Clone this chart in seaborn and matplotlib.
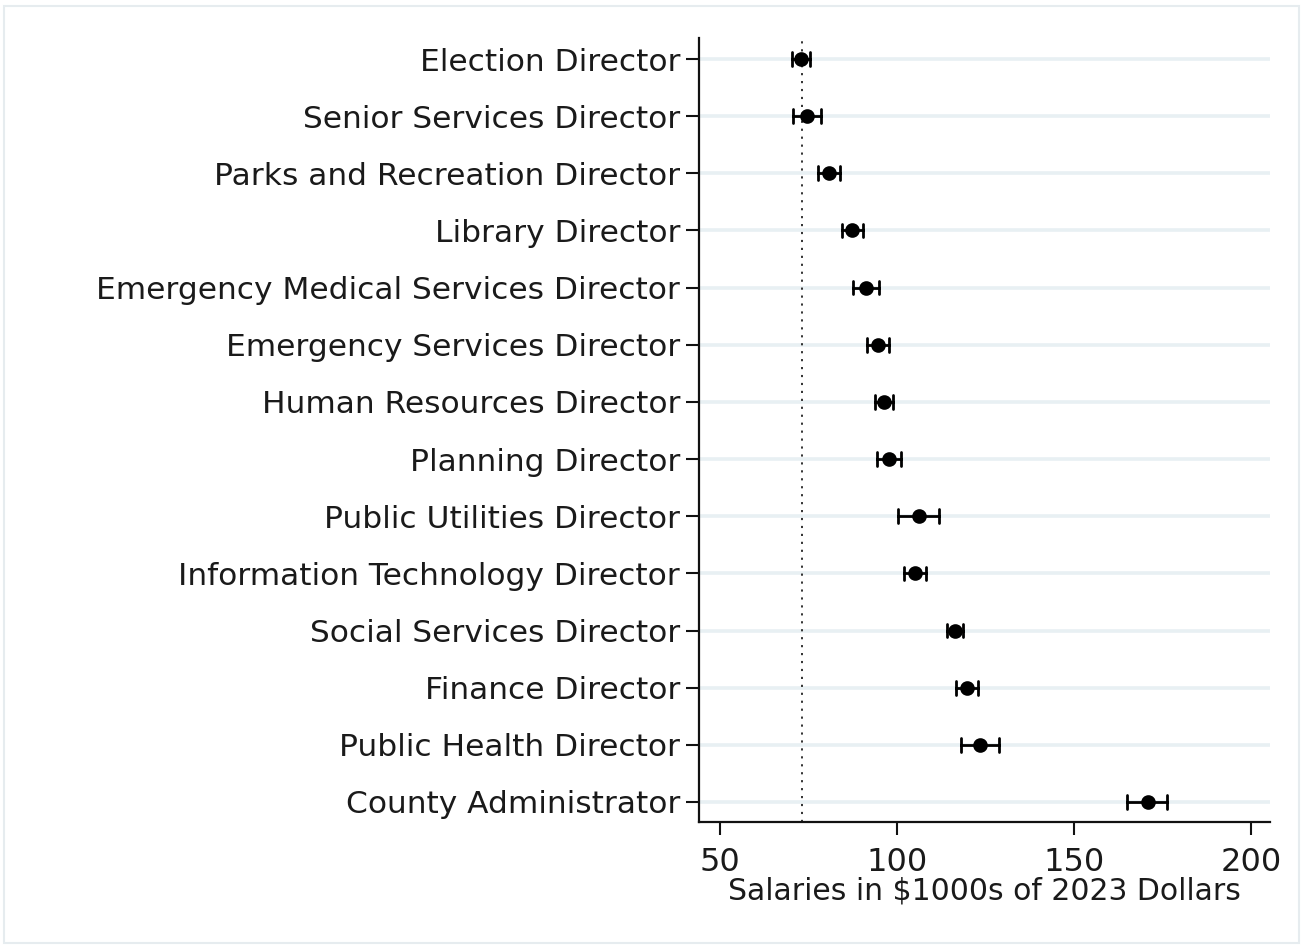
import matplotlib
matplotlib.use("Agg")
import matplotlib.pyplot as plt
import seaborn as sns
import pandas as pd
from matplotlib.patches import Rectangle

# Positions ordered top to bottom
positions = [
    "Election Director",
    "Senior Services Director",
    "Parks and Recreation Director",
    "Library Director",
    "Emergency Medical Services Director",
    "Emergency Services Director",
    "Human Resources Director",
    "Planning Director",
    "Public Utilities Director",
    "Information Technology Director",
    "Social Services Director",
    "Finance Director",
    "Public Health Director",
    "County Administrator",
]

# Estimated salary (thousands of 2023 dollars) with lower / upper interval bounds
salary_est = [72.9, 74.6, 80.7, 87.3, 91.3, 94.6, 96.3, 97.7, 106.1, 105.0, 116.4, 119.7, 123.3, 170.8]
salary_lo = [70.3, 70.6, 77.7, 84.5, 87.5, 91.5, 93.8, 94.3, 100.2, 101.9, 114.1, 116.7, 117.9, 164.9]
salary_hi = [75.5, 78.4, 83.8, 90.3, 94.9, 97.7, 98.7, 101.1, 111.8, 108.0, 118.7, 122.9, 128.8, 176.2]

reference_salary = 73.0
x_ticks = [50, 100, 150, 200]
x_label = "Salaries in $1000s of 2023 Dollars"

# Long-form table: each position carries its lower bound, estimate and upper bound,
# so the median gives the estimate and the full percentile interval gives the bounds.
rows = []
for name, lo, est, hi in zip(positions, salary_lo, salary_est, salary_hi):
    for v in (lo, est, hi):
        rows.append({"position": name, "salary": v})
df = pd.DataFrame(rows)

sns.set_theme(style="white")
plt.rcParams["font.family"] = ["DejaVu Sans"]

fig = plt.figure(figsize=(13.04, 9.47), dpi=100)
ax = fig.add_axes([0.536, 0.132, 0.438, 0.828])

ax.axvline(reference_salary, color="#222222", lw=1.3, ls=(0, (1.2, 3.2)), zorder=1)

sns.pointplot(
    data=df, x="salary", y="position", order=positions,
    estimator="median", errorbar=("pi", 100),
    linestyle="none", color="black", markers="o", markersize=8.5,
    capsize=0.24, err_kws={"linewidth": 2.0},
    ax=ax, zorder=3,
)

ax.set_xlim(44.0, 205.3)
ax.set_ylim(13.35, -0.37)
ax.set_xticks(x_ticks)
ax.set_xlabel(x_label, fontsize=21.5, color="#1a1a1a", labelpad=-1)
ax.set_ylabel("")

ax.grid(axis="y", color="#e8f0f3", lw=2.6, zorder=0)
ax.grid(axis="x", visible=False)
ax.set_axisbelow(True)

for side in ("top", "right"):
    ax.spines[side].set_visible(False)
for side in ("left", "bottom"):
    ax.spines[side].set_color("#111111")
    ax.spines[side].set_linewidth(1.6)

ax.tick_params(axis="y", length=9.5, width=1.5, color="#111111", pad=4,
               labelsize=22.5, labelcolor="#1a1a1a", left=True)
ax.tick_params(axis="x", length=9, width=1.5, color="#111111", pad=9,
               labelsize=23, labelcolor="#1a1a1a", bottom=True)

# Thin outer frame around the whole figure
fig.patches.append(Rectangle((0.003, 0.004), 0.993, 0.99, transform=fig.transFigure,
                             fill=False, edgecolor="#e6ecef", lw=1.5))

fig.savefig("out.png", dpi=100, facecolor="white")
